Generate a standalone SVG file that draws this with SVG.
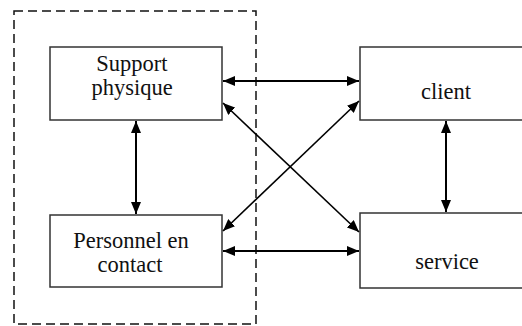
<svg xmlns="http://www.w3.org/2000/svg" width="522" height="326" viewBox="0 0 522 326">
<style>
.box{fill:#fff;stroke:#333;stroke-width:1.5}
.c{stroke:#000;stroke-width:2;fill:none}
.d{stroke:#000;stroke-width:1.6;fill:none}
</style>
<defs>
<marker id="ah" viewBox="0 0 12 10" refX="12" refY="5" markerWidth="12" markerHeight="10" markerUnits="userSpaceOnUse" orient="auto-start-reverse">
<path d="M0,0 L12,5 L0,10 Z" fill="#000"/>
</marker>
</defs>
<rect x="14" y="11" width="242" height="313" fill="none" stroke="#111" stroke-width="1.5" stroke-dasharray="9,5"/>
<g font-family="Liberation Serif, Times New Roman, serif" font-size="22.5" fill="#111" text-anchor="middle">
<g id="support">
<rect class="box" x="50" y="47" width="172" height="73"/>
<text x="132" y="71">Support</text>
<text x="132" y="95">physique</text>
</g>
<g id="personnel">
<rect class="box" x="50" y="215" width="172" height="72"/>
<text x="131" y="248">Personnel en</text>
<text x="130" y="272">contact</text>
</g>
<g id="client">
<rect class="box" x="360" y="47" width="180" height="73"/>
<text x="446" y="99">client</text>
</g>
<g id="service">
<rect class="box" x="360" y="213" width="180" height="75"/>
<text x="447" y="269">service</text>
</g>
</g>
<g id="connectors">
<line class="c" x1="223" y1="81" x2="359" y2="81" marker-start="url(#ah)" marker-end="url(#ah)"/>
<line class="c" x1="223" y1="251" x2="359" y2="251" marker-start="url(#ah)" marker-end="url(#ah)"/>
<line class="c" x1="136" y1="121" x2="136" y2="214" marker-start="url(#ah)" marker-end="url(#ah)"/>
<line class="c" x1="446" y1="121" x2="446" y2="212" marker-start="url(#ah)" marker-end="url(#ah)"/>
<line class="d" x1="223" y1="103" x2="359" y2="232" marker-start="url(#ah)" marker-end="url(#ah)"/>
<line class="d" x1="359" y1="101" x2="223" y2="231" marker-start="url(#ah)" marker-end="url(#ah)"/>
</g>
</svg>
